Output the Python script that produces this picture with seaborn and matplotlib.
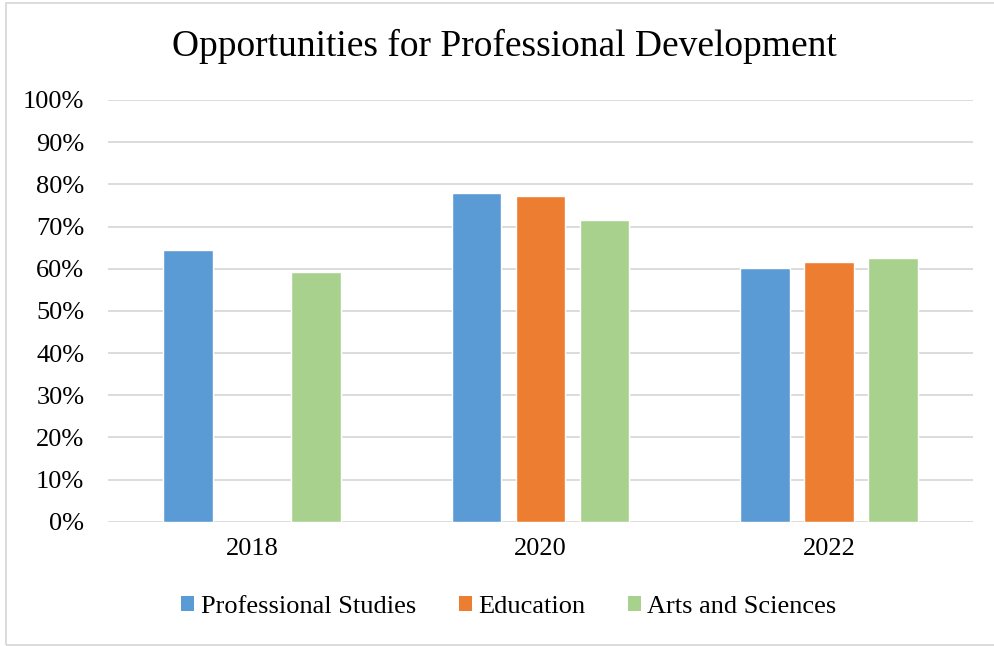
import matplotlib
matplotlib.use("Agg")
import matplotlib.pyplot as plt
from matplotlib.patches import Rectangle, Patch
import numpy as np
import pandas as pd
import seaborn as sns

years = ["2018", "2020", "2022"]
colleges = ["Professional Studies", "Education", "Arts and Sciences"]
professional_studies = [64.4, 77.9, 60.1]
education = [np.nan, 77.2, 61.6]
arts_and_sciences = [59.3, 71.6, 62.5]
y_ticks = [0, 10, 20, 30, 40, 50, 60, 70, 80, 90, 100]
colors = ["#5B9BD5", "#ED7D31", "#A9D18E"]

df = pd.DataFrame({
    "Year": years * 3,
    "College": [c for c in colleges for _ in years],
    "Value": professional_studies + education + arts_and_sciences,
})

sns.set_theme(style="white")
plt.rcParams["font.family"] = ["Liberation Serif", "DejaVu Serif"]

fig = plt.figure(figsize=(9.95, 6.46), dpi=100)
ax = fig.add_axes([108 / 995, 1 - 521.8 / 646, 865 / 995, 421.8 / 646])

sns.barplot(data=df, x="Year", y="Value", hue="College", order=years,
            hue_order=colleges, palette=colors, width=0.666, gap=0.22,
            saturation=1, errorbar=None, ax=ax, legend=False, zorder=3)

ax.set_xlim(-0.5, 2.5)
ax.set_ylim(0, 100)
ax.set_yticks(y_ticks)
ax.set_yticklabels([f"{t}%" for t in y_ticks], fontsize=19)
ax.tick_params(axis="x", labelsize=19, pad=12, length=0, labelcolor="black")
ax.tick_params(axis="y", pad=17, length=0, labelcolor="black")
ax.set_xlabel("")
ax.set_ylabel("")
ax.grid(axis="y", color="#D9D9D9", linewidth=1.3, zorder=0)
ax.set_axisbelow(True)
for s in ax.spines.values():
    s.set_visible(False)

fig.text(504 / 995, 1 - 46 / 646, "Opportunities for Professional Development",
         ha="center", va="center", fontsize=27, color="black")

handles = [Patch(facecolor=c, edgecolor="none") for c in colors]
fig.legend(handles, colleges, loc="center", bbox_to_anchor=(509 / 995, 1 - 607 / 646),
           ncol=3, frameon=False, fontsize=19, handlelength=0.5, handleheight=0.5,
           handletextpad=0.25, columnspacing=1.6, labelcolor="black")

fig.add_artist(Rectangle((6.5 / 995, 1 - 645 / 646), 1.0, 642 / 646,
                         transform=fig.transFigure, fill=False,
                         edgecolor="#D9D9D9", linewidth=1.3))

fig.savefig("out.png", dpi=100, facecolor="white")
